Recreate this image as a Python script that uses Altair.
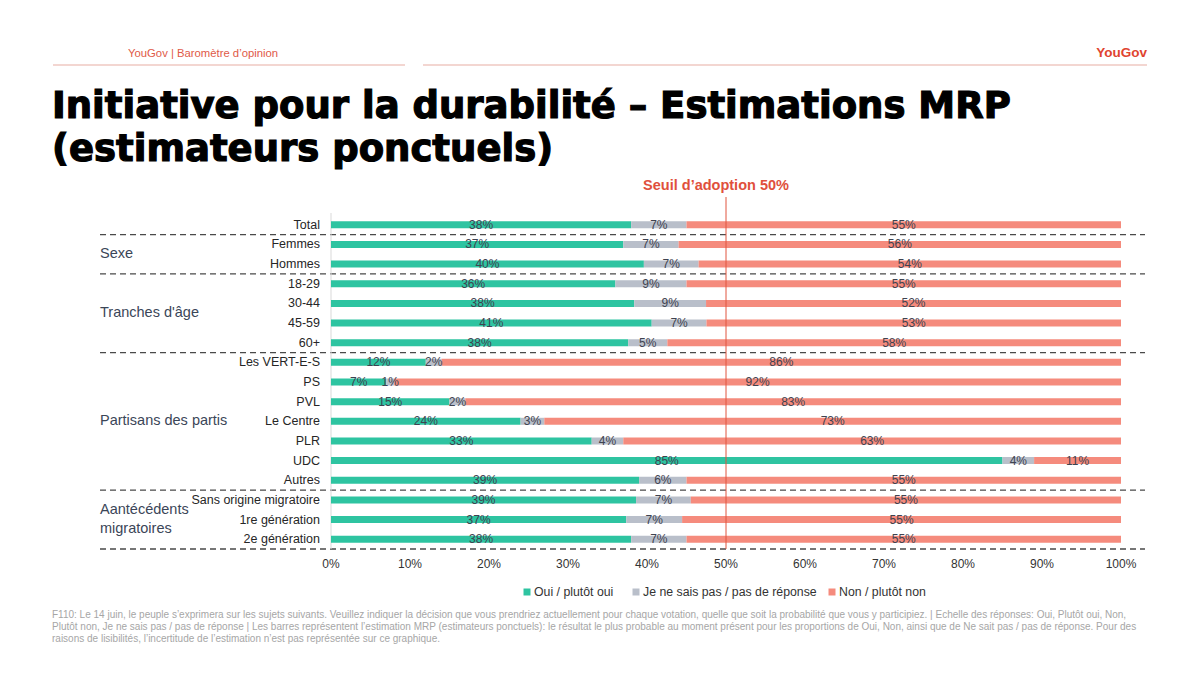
import altair as alt
import pandas as pd

# Survey rows, top to bottom
categories = [
    "Total", "Femmes", "Hommes",
    "18-29", "30-44", "45-59", "60+",
    "Les VERT-E-S", "PS", "PVL", "Le Centre", "PLR", "UDC", "Autres",
    "Sans origine migratoire", "1re génération", "2e génération",
]
oui = [38, 37, 40, 36, 38, 41, 38, 12, 7, 15, 24, 33, 85, 39, 39, 37, 38]
nsp = [7, 7, 7, 9, 9, 7, 5, 2, 1, 2, 3, 4, 4, 6, 7, 7, 7]
non = [55, 56, 54, 55, 52, 53, 58, 86, 92, 83, 73, 63, 11, 55, 55, 55, 55]

responses = ["Oui / plutôt oui", "Je ne sais pas / pas de réponse", "Non / plutôt non"]
colors = ["#2ec4a1", "#b9bfca", "#f58b7d"]

# Group headings (one entry per text line) and the row each line sits on
group_lines = ["Sexe", "Tranches d'âge", "Partisans des partis", "Aantécédents", "migratoires"]
group_rows = [1.5, 4.5, 10.0, 14.5, 15.5]
# Dashed separators fall between groups
separators = [0.5, 2.5, 6.5, 13.5, 16.5]

x_ticks = [i / 10 for i in range(11)]

footnote_lines = [
    "F110: Le 14 juin, le peuple s’exprimera sur les sujets suivants. Veuillez indiquer la décision que vous prendriez "
    "actuellement pour chaque votation, quelle que soit la probabilité que vous y participiez. | Echelle des réponses: Oui, Plutôt oui, Non,",
    "Plutôt non, Je ne sais pas / pas de réponse | Les barres représentent l’estimation MRP (estimateurs ponctuels): le résultat "
    "le plus probable au moment présent pour les proportions de Oui, Non, ainsi que de Ne sait pas / pas de réponse. Pour des",
    "raisons de lisibilités, l’incertitude de l’estimation n’est pas représentée sur ce graphique.",
]

FONT = "Liberation Sans"
TITLE_FONT = "DejaVu Sans"
CW, CH = 1200, 674
# Plot frame inside the canvas (pixels)
PX0, PX1 = 331, 1121
PY0, PY1 = 215, 549
n = len(categories)
row_h = (PY1 - PY0) / n
unit = PX1 - PX0


def fx(px):
    """Canvas pixel column -> share on the x scale."""
    return (px - PX0) / unit


def fy(py):
    """Canvas pixel row -> row index on the y scale."""
    return (py - PY0) / row_h - 0.5


# Scales span the whole canvas so that 0–100 % and the rows land on the frame
xs = alt.Scale(domain=[fx(0), fx(CW)], nice=False, zero=False)
ys = alt.Scale(domain=[fy(0), fy(CH)], reverse=True, nice=False, zero=False)
X = lambda f: alt.X(f, scale=xs, axis=None)
Y = lambda f: alt.Y(f, scale=ys, axis=None)

rows = []
for i, cat in enumerate(categories):
    vals = [oui[i], nsp[i], non[i]]
    total = sum(vals)
    start = 0.0
    for k, resp in enumerate(responses):
        end = start + vals[k] / total
        rows.append({"row": i, "cat": cat, "resp": resp, "value": vals[k],
                     "v0": start, "v1": end, "mid": (start + end) / 2,
                     "lbl": f"{vals[k]}%"})
        start = end
df = pd.DataFrame(rows)

color = alt.Color("resp:N", scale=alt.Scale(domain=responses, range=colors), legend=None)

bars = alt.Chart(df).mark_rule(strokeWidth=7).encode(
    x=X("v0:Q"), x2="v1:Q", y=Y("row:Q"), color=color
)
labels = alt.Chart(df).mark_text(font=FONT, fontSize=12, color="#3f4350", baseline="middle").encode(
    x=X("mid:Q"), y=Y("row:Q"), text="lbl:N"
)

cat_df = pd.DataFrame({"row": list(range(n)), "cat": categories, "x": fx(PX0 - 11)})
cat_labels = alt.Chart(cat_df).mark_text(
    font=FONT, fontSize=12.5, color="#262626", align="right", baseline="middle"
).encode(x=X("x:Q"), y=Y("row:Q"), text="cat:N")

grp_df = pd.DataFrame({"row": group_rows, "grp": group_lines, "x": fx(100)})
grp_labels = alt.Chart(grp_df).mark_text(
    font=FONT, fontSize=14.5, color="#3b4658", align="left", baseline="middle"
).encode(x=X("x:Q"), y=Y("row:Q"), text="grp:N")

sep_df = pd.DataFrame({"row": separators, "x0": fx(100), "x1": fx(1145)})
seps = alt.Chart(sep_df).mark_rule(color="#4a4a4a", strokeWidth=1.3, strokeDash=[6, 4]).encode(
    x=X("x0:Q"), x2="x1:Q", y=Y("row:Q")
)

tick_df = pd.DataFrame({"x": x_ticks, "y": fy(564),
                        "lbl": [f"{int(round(t * 100))}%" for t in x_ticks]})
tick_labels = alt.Chart(tick_df).mark_text(
    font=FONT, fontSize=12, color="#333333", baseline="middle"
).encode(x=X("x:Q"), y=Y("y:Q"), text="lbl:N")


def spot(px, py, px2=None, py2=None):
    """One-row frame holding a position (and optional end point) in scale units."""
    d = {"x": [fx(px)], "y": [fy(py)]}
    if px2 is not None:
        d["x2"] = [fx(px2)]
    if py2 is not None:
        d["y2"] = [fy(py2)]
    return alt.Chart(pd.DataFrame(d))


left_line = spot(PX0, PY0 - 2, py2=PY1).mark_rule(color="#d9d9d9", strokeWidth=1).encode(
    x=X("x:Q"), y=Y("y:Q"), y2="y2:Q"
)
thr_df = pd.DataFrame({"x": [0.5], "y": [fy(197)], "y2": [fy(PY1)]})
threshold = alt.Chart(thr_df).mark_rule(color="#e0553f", strokeWidth=1).encode(
    x=X("x:Q"), y=Y("y:Q"), y2="y2:Q"
)
threshold_lbl = spot(716, 186).mark_text(
    text="Seuil d’adoption 50%", font=FONT, fontSize=14.5, fontWeight="bold",
    color="#e0503c", align="center", baseline="middle",
).encode(x=X("x:Q"), y=Y("y:Q"))

title1 = spot(52, 118).mark_text(
    text="Initiative pour la durabilité – Estimations MRP", font=TITLE_FONT, fontSize=37,
    fontWeight="bold", color="#000000", stroke="#000000", strokeWidth=1.2,
    align="left", baseline="alphabetic",
).encode(x=X("x:Q"), y=Y("y:Q"))
title2 = spot(52, 161).mark_text(
    text="(estimateurs ponctuels)", font=TITLE_FONT, fontSize=37,
    fontWeight="bold", color="#000000", stroke="#000000", strokeWidth=1.2,
    align="left", baseline="alphabetic",
).encode(x=X("x:Q"), y=Y("y:Q"))

header = spot(128, 54).mark_text(
    text="YouGov | Baromètre d’opinion", font=FONT, fontSize=11.3, color="#e05a48",
    align="left", baseline="middle",
).encode(x=X("x:Q"), y=Y("y:Q"))
logo = spot(1147, 53).mark_text(
    text="YouGov", font=FONT, fontSize=13.5, fontWeight="bold", color="#e0442f",
    align="right", baseline="middle",
).encode(x=X("x:Q"), y=Y("y:Q"))
hline1 = spot(53, 65, px2=405).mark_rule(color="#efc8c2", strokeWidth=1.5).encode(
    x=X("x:Q"), x2="x2:Q", y=Y("y:Q")
)
hline2 = spot(423, 65, px2=1147).mark_rule(color="#efc8c2", strokeWidth=1.5).encode(
    x=X("x:Q"), x2="x2:Q", y=Y("y:Q")
)

# Legend row: swatch followed by its label, left to right
leg_px = [527, 636, 832]
leg_df = pd.DataFrame({"resp": responses,
                       "sx": [fx(p) for p in leg_px],
                       "tx": [fx(p + 7) for p in leg_px],
                       "y": fy(592)})
leg_sw = alt.Chart(leg_df).mark_square(size=49, opacity=1).encode(
    x=X("sx:Q"), y=Y("y:Q"), color=color
)
leg_tx = alt.Chart(leg_df).mark_text(
    font=FONT, fontSize=12.3, color="#333333", align="left", baseline="middle"
).encode(x=X("tx:Q"), y=Y("y:Q"), text="resp:N")

note_df = pd.DataFrame({"line": footnote_lines, "x": fx(52),
                        "y": [fy(615), fy(627), fy(639)]})
note = alt.Chart(note_df).mark_text(
    font=FONT, fontSize=10, color="#a6a6a6", align="left", baseline="middle",
).encode(x=X("x:Q"), y=Y("y:Q"), text="line:N")

chart = alt.layer(
    seps, left_line, bars, threshold, labels, cat_labels, grp_labels, tick_labels,
    threshold_lbl, title1, title2, header, logo, hline1, hline2, leg_sw, leg_tx, note,
).properties(
    width=CW, height=CH, padding=0, background="white",
).configure_view(stroke=None)

chart.save("out.html", embed_options={"renderer": "svg", "actions": False})
